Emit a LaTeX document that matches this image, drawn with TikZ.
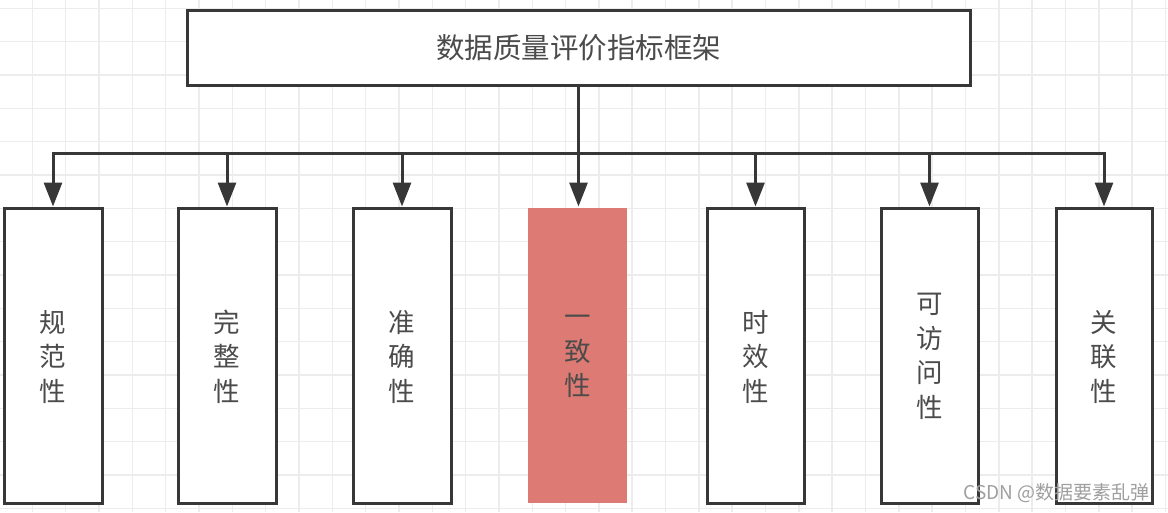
\documentclass[tikz,border=0pt]{standalone}
\usepackage{fontspec}
\newfontfamily\cjk{Noto Sans CJK SC}
\usetikzlibrary{arrows.meta}
\definecolor{edgec}{RGB}{55,55,55}
\definecolor{gridc}{RGB}{236,236,236}
\definecolor{redfill}{RGB}{221,122,115}
\definecolor{txtc}{RGB}{75,75,75}
\tikzset{
  box/.style={draw=edgec, line width=3pt, fill=white, inner sep=0pt, font=\cjk\fontsize{26.5}{34.5}\selectfont, text=txtc, align=center},
  redbox/.style={box, draw=none, fill=redfill},
  conn/.style={draw=edgec, line width=3pt, -{Triangle[length=24pt,width=18pt]}},
  gridline/.style={draw=gridc, line width=1.5pt},
}
\begin{document}
\begin{tikzpicture}[x=1pt,y=-1pt]
\useasboundingbox (0,0) rectangle (1168,512);
\fill[white] (0,0) rectangle (1168,512);
\foreach \k in {0,...,34} \draw[gridline] ({32.3+\k*33.33},0) -- ({32.3+\k*33.33},512);
\foreach \k in {0,...,15} \draw[gridline] (0,{8.3+\k*33.33}) -- (1168,{8.3+\k*33.33});
\node[box, minimum width=783pt, minimum height=75pt, font=\cjk\fontsize{28.5}{32}\selectfont] (top) at (578.5,47.5) {数据质量评价指标框架};
\node[box, minimum width=98pt, minimum height=295pt, text depth=-3pt] (b1) at (53,355.5) {规\\范\\性};
\node[box, minimum width=98pt, minimum height=295pt, text depth=-3pt] (b2) at (227,355.5) {完\\整\\性};
\node[box, minimum width=98pt, minimum height=295pt, text depth=-3pt] (b3) at (402,355.5) {准\\确\\性};
\node[redbox, minimum width=99pt, minimum height=295pt, text depth=-3pt] (b4) at (577.5,355.5) {一\\致\\性};
\node[box, minimum width=97pt, minimum height=295pt, text depth=-3pt] (b5) at (755.5,355.5) {时\\效\\性};
\node[box, minimum width=97pt, minimum height=295pt, text depth=-3pt] (b6) at (929.5,355.5) {可\\访\\问\\性};
\node[box, minimum width=96pt, minimum height=295pt, text depth=-3pt] (b7) at (1104,355.5) {关\\联\\性};
\coordinate (j) at (578.5,153);
\foreach \b in {b1,b2,b3,b5,b6,b7} \draw[conn] (top.south) -- (j) -| (\b.north);
\draw[conn] (top.south) -- (top.south |- b4.north);
\node[font=\cjk\fontsize{19}{22}\selectfont, text=gray!75, anchor=east] (wm) at (1153,493) {CSDN @数据要素乱弹};
\end{tikzpicture}
\end{document}
